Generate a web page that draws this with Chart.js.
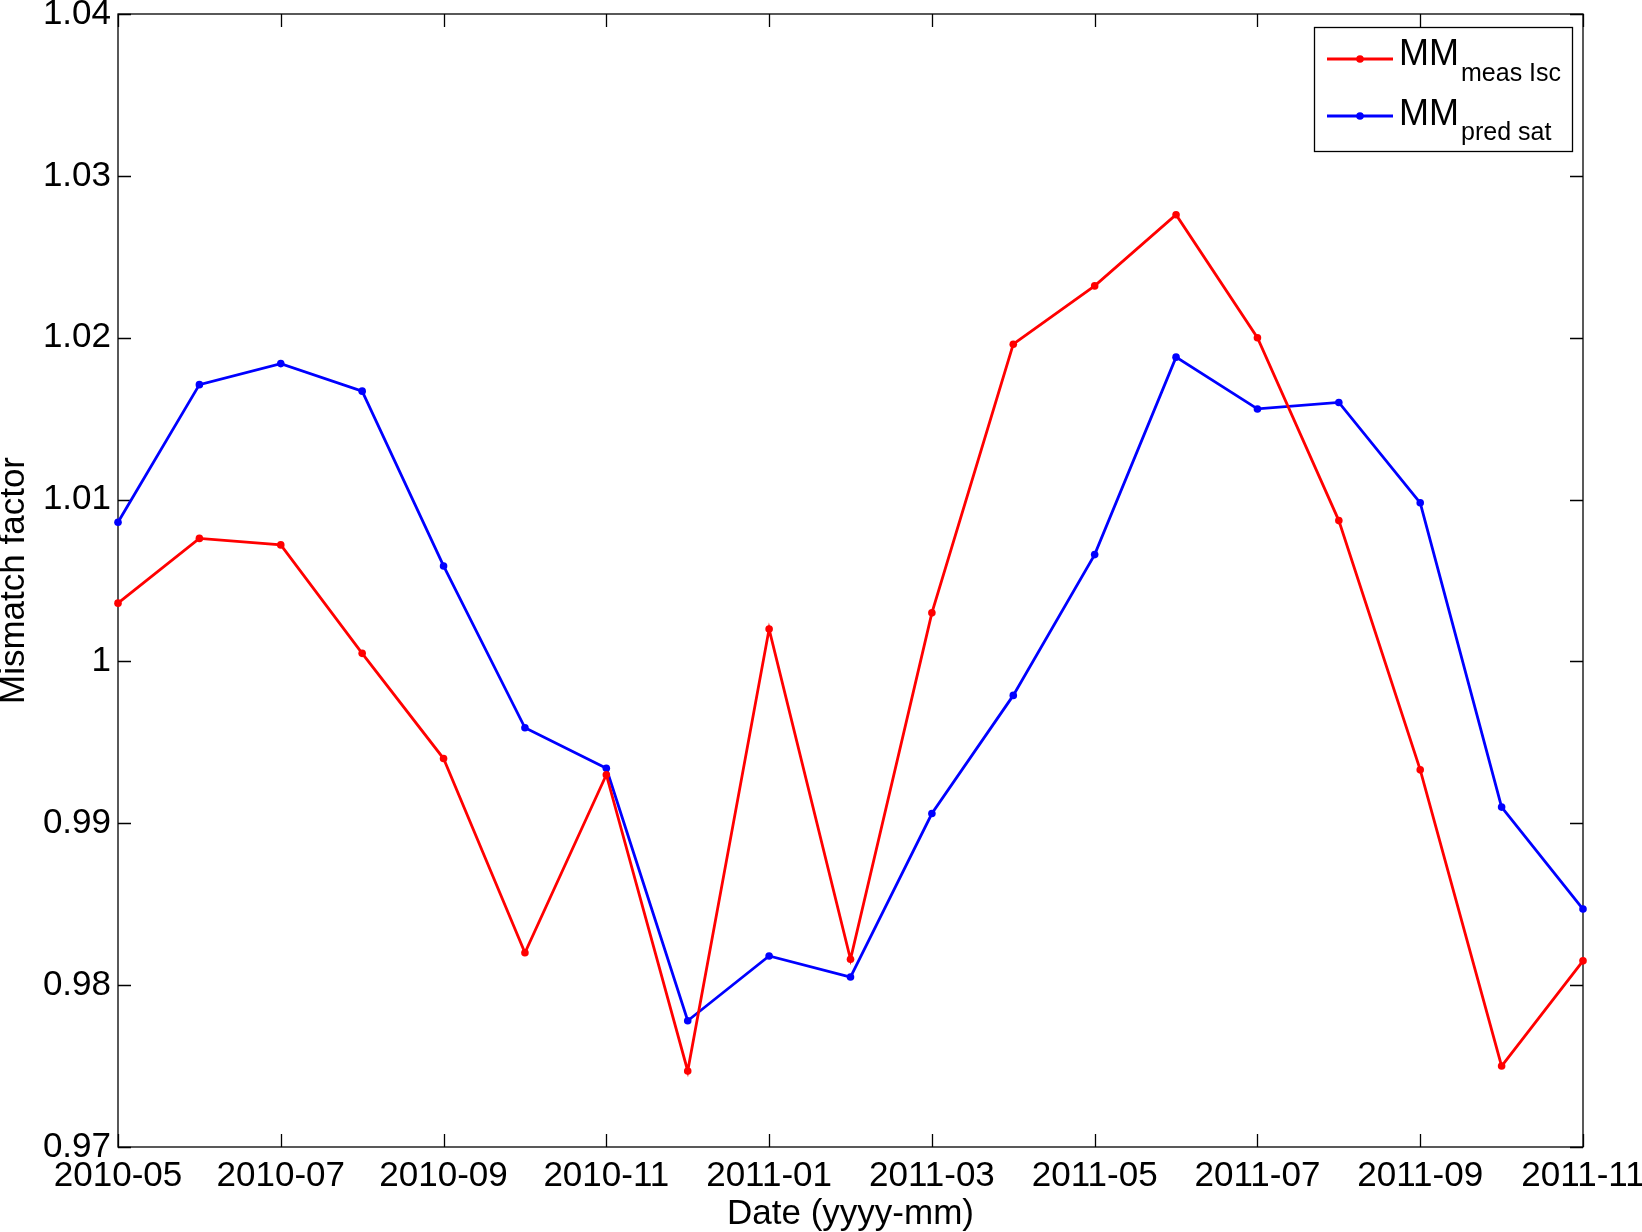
<!DOCTYPE html>
<html>
<head>
<meta charset="utf-8">
<script src="https://cdn.jsdelivr.net/npm/chart.js@4"></script>
<style>
    body { margin: 0; background: #fff; }
    #wrap { width: 1642px; height: 1232px; position: relative; }
</style>
</head>
<body>
<div id="wrap"><canvas id="mm-chart"></canvas></div>
<script>
var months = ['2010-05', '2010-06', '2010-07', '2010-08', '2010-09', '2010-10', '2010-11', '2010-12',
              '2011-01', '2011-02', '2011-03', '2011-04', '2011-05', '2011-06', '2011-07', '2011-08',
              '2011-09', '2011-10', '2011-11'];
var mmMeasIsc = [1.0036, 1.0076, 1.0072, 1.0005, 0.9940, 0.9820, 0.9930, 0.9747,
                 1.0020, 0.9816, 1.0030, 1.0196, 1.0232, 1.0276, 1.0200, 1.0087,
                 0.9933, 0.9750, 0.9815];
var mmPredSat = [1.0086, 1.0171, 1.0184, 1.0167, 1.0059, 0.9959, 0.9934, 0.9778,
                 0.9818, 0.9805, 0.9906, 0.9979, 1.0066, 1.0188, 1.0156, 1.0160,
                 1.0098, 0.9910, 0.9847];
var yMin = 0.97;
var yMax = 1.04;
var yStep = 0.01;
var legendMain = ['MM', 'MM'];
var legendSub = ['meas Isc', 'pred sat'];

var FONT = '"Liberation Sans", Arial, sans-serif';

// MATLAB style box with inward ticks on all four sides
var framePlugin = {
    id: 'frame',
    beforeDatasetsDraw: function (chart) {
        var ctx = chart.ctx;
        var a = chart.chartArea;
        var xs = chart.scales.x;
        var ys = chart.scales.y;
        var tl = 13;
        ctx.save();
        ctx.strokeStyle = '#000';
        ctx.lineWidth = 1.3;
        ctx.strokeRect(a.left, a.top, a.right - a.left, a.bottom - a.top);
        ctx.beginPath();
        months.forEach(function (m, i) {
            if (i % 2 !== 0) return;
            var px = Math.round(xs.getPixelForValue(i)) + 0.5;
            ctx.moveTo(px, a.bottom); ctx.lineTo(px, a.bottom - tl);
            ctx.moveTo(px, a.top); ctx.lineTo(px, a.top + tl);
        });
        ys.ticks.forEach(function (t) {
            var py = Math.round(ys.getPixelForValue(t.value)) + 0.5;
            ctx.moveTo(a.left, py); ctx.lineTo(a.left + tl, py);
            ctx.moveTo(a.right, py); ctx.lineTo(a.right - tl, py);
        });
        ctx.stroke();
        ctx.restore();
    },
    afterDraw: function (chart) {
        var ctx = chart.ctx;
        var colors = chart.data.datasets.map(function (d) { return d.borderColor; });
        var rows = [{ line: 59, base: 65, subBase: 81 }, { line: 116, base: 125, subBase: 140 }];
        ctx.save();
        ctx.fillStyle = '#fff';
        ctx.fillRect(1314, 27, 258, 124);
        ctx.strokeStyle = '#000';
        ctx.lineWidth = 1.3;
        ctx.strokeRect(1314.5, 27.5, 258, 124);
        rows.forEach(function (r, i) {
            ctx.strokeStyle = colors[i];
            ctx.lineWidth = 2.8;
            ctx.beginPath();
            ctx.moveTo(1327, r.line);
            ctx.lineTo(1393, r.line);
            ctx.stroke();
            ctx.fillStyle = colors[i];
            ctx.beginPath();
            ctx.arc(1360, r.line, 3.8, 0, Math.PI * 2);
            ctx.fill();
            ctx.fillStyle = '#000';
            ctx.textBaseline = 'alphabetic';
            ctx.textAlign = 'left';
            ctx.font = '36px ' + FONT;
            ctx.fillText(legendMain[i], 1399, r.base);
            ctx.font = '25px ' + FONT;
            ctx.fillText(legendSub[i], 1461, r.subBase);
        });
        ctx.restore();
    }
};

var chart_element = document.getElementById('mm-chart');

var _chart = new Chart(chart_element, {
    type: 'line',
    data: {
        labels: months,
        datasets: [
            {
                label: 'MM meas Isc',
                data: mmMeasIsc,
                borderColor: '#ff0000',
                backgroundColor: '#ff0000',
                borderWidth: 2.8,
                pointRadius: 3.8,
                pointBorderWidth: 0,
                tension: 0,
                clip: false
            },
            {
                label: 'MM pred sat',
                data: mmPredSat,
                borderColor: '#0000ff',
                backgroundColor: '#0000ff',
                borderWidth: 2.8,
                pointRadius: 3.8,
                pointBorderWidth: 0,
                tension: 0,
                clip: false
            }
        ]
    },
    options: {
        responsive: true,
        maintainAspectRatio: false,
        animation: false,
        layout: { padding: { top: 14, right: 59, left: 0, bottom: 0 } },
        plugins: {
            legend: { display: false },
            tooltip: { enabled: false }
        },
        scales: {
            x: {
                type: 'category',
                offset: false,
                afterFit: function (s) { s.height = 85; s.paddingLeft = 0; s.paddingRight = 0; },
                grid: { display: false, drawTicks: false },
                border: { display: false },
                ticks: {
                    autoSkip: false,
                    maxRotation: 0,
                    padding: 8,
                    color: '#000',
                    font: { size: 35, family: FONT },
                    callback: function (v, i) { return i % 2 === 0 ? months[i] : null; }
                },
                title: {
                    display: true,
                    text: 'Date (yyyy-mm)',
                    color: '#000',
                    font: { size: 35, family: FONT, lineHeight: 1 },
                    padding: { top: 0, bottom: 0 }
                }
            },
            y: {
                min: yMin,
                max: yMax,
                afterFit: function (s) { s.width = 118; s.paddingTop = 0; s.paddingBottom = 0; },
                grid: { display: false, drawTicks: false },
                border: { display: false },
                ticks: {
                    stepSize: yStep,
                    padding: 7,
                    color: '#000',
                    font: { size: 35, family: FONT },
                    callback: function (v) { return String(+v.toFixed(2)); }
                },
                title: {
                    display: true,
                    text: 'Mismatch factor',
                    color: '#000',
                    font: { size: 35, family: FONT, lineHeight: 0.8 },
                    padding: 0
                }
            }
        }
    },
    plugins: [framePlugin]
});
</script>
</body>
</html>
